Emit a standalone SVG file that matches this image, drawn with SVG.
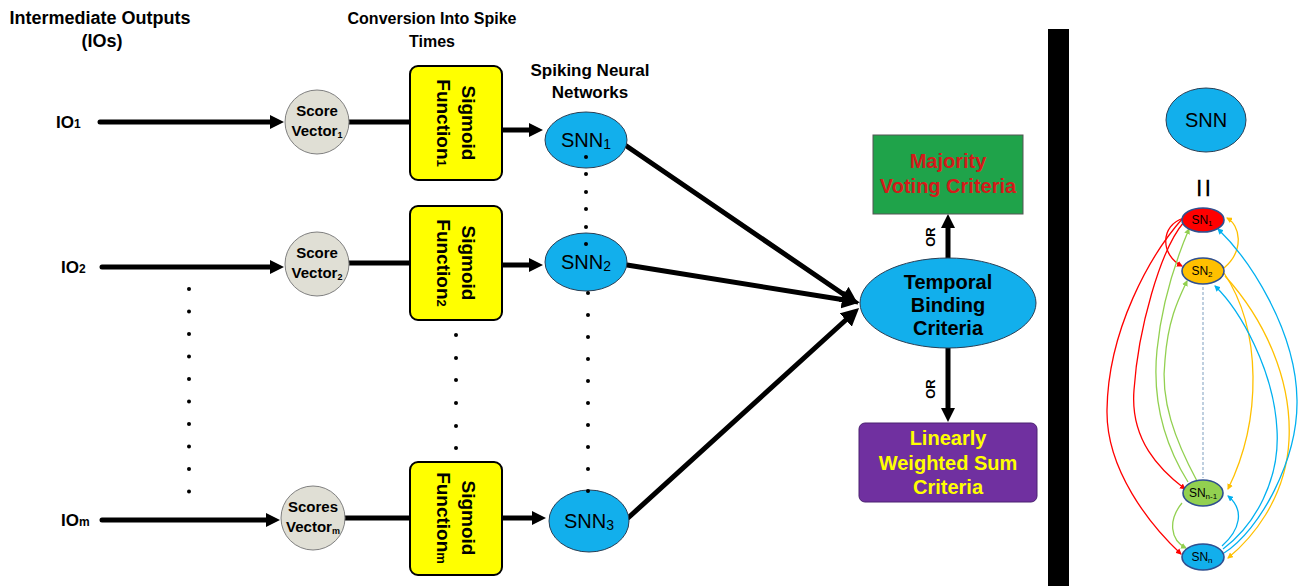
<svg xmlns="http://www.w3.org/2000/svg" width="1305" height="586" viewBox="0 0 1305 586">
<style>
.hdr{font-family:"Liberation Sans",Arial,sans-serif;font-weight:bold;font-size:17px;fill:#000;text-anchor:middle}
.io{font-family:"Liberation Sans",Arial,sans-serif;font-weight:bold;font-size:17px;fill:#000;text-anchor:start}
.sv{font-family:"Liberation Sans",Arial,sans-serif;font-weight:bold;font-size:15px;fill:#000;text-anchor:middle}
.sig{font-family:"Liberation Sans",Arial,sans-serif;font-weight:bold;font-size:19px;fill:#000;text-anchor:middle}
.snn{font-family:"Liberation Sans",Arial,sans-serif;font-size:20px;fill:#000;text-anchor:middle}
.crit{font-family:"Liberation Sans",Arial,sans-serif;font-weight:bold;font-size:20px;text-anchor:middle}
.or{font-family:"Liberation Sans",Arial,sans-serif;font-weight:bold;font-size:13px;fill:#000;text-anchor:middle}
.sn{font-family:"Liberation Sans",Arial,sans-serif;font-size:12px;fill:#000;text-anchor:middle}
.thick{stroke:#000;stroke-width:5;fill:none;stroke-linecap:round}
.circ{fill:#e0dfd5;stroke:#7f7f7f;stroke-width:1}
.box{fill:#ffff00;stroke:#000;stroke-width:2}
.blue{fill:#12afec;stroke:#2a3f55;stroke-width:1}
.dot{fill:#000}
.thin{fill:none;stroke-width:1.3}
.snode{stroke:#2f4f8f;stroke-width:1.6}
</style>
<defs>
<marker id="ah" viewBox="0 0 14 14" refX="2" refY="7" markerWidth="14" markerHeight="14" markerUnits="userSpaceOnUse" orient="auto"><path d="M0,0 L14,7 L0,14 z" fill="#000"/></marker>
<marker id="ahL" viewBox="0 0 18 18" refX="3" refY="9" markerWidth="18" markerHeight="18" markerUnits="userSpaceOnUse" orient="auto"><path d="M0,0 L18,9 L0,18 z" fill="#000"/></marker>
<marker id="mr" viewBox="0 0 6 6" refX="5" refY="3" markerWidth="6" markerHeight="6" markerUnits="userSpaceOnUse" orient="auto"><path d="M0,0 L6,3 L0,6 z" fill="#ff0000"/></marker>
<marker id="mg" viewBox="0 0 6 6" refX="5" refY="3" markerWidth="6" markerHeight="6" markerUnits="userSpaceOnUse" orient="auto"><path d="M0,0 L6,3 L0,6 z" fill="#92d050"/></marker>
<marker id="my" viewBox="0 0 6 6" refX="5" refY="3" markerWidth="6" markerHeight="6" markerUnits="userSpaceOnUse" orient="auto"><path d="M0,0 L6,3 L0,6 z" fill="#ffc000"/></marker>
<marker id="mb" viewBox="0 0 6 6" refX="5" refY="3" markerWidth="6" markerHeight="6" markerUnits="userSpaceOnUse" orient="auto"><path d="M0,0 L6,3 L0,6 z" fill="#00b0f0"/></marker>
</defs>
<rect width="1305" height="586" fill="#fff"/>

<g id="headers">
<text class="hdr" x="100" y="24" style="font-size:18px">Intermediate Outputs</text>
<text class="hdr" x="102" y="47" style="font-size:18px">(IOs)</text>
<text class="hdr" x="432" y="24" style="font-size:16px">Conversion Into Spike</text>
<text class="hdr" x="432" y="47" style="font-size:16px">Times</text>
<text class="hdr" x="590" y="76">Spiking Neural</text>
<text class="hdr" x="590" y="98">Networks</text>
</g>

<g id="io-labels">
<text class="io" x="56" y="128">IO<tspan font-size="12">1</tspan></text>
<text class="io" x="61" y="273">IO<tspan font-size="12">2</tspan></text>
<text class="io" x="61" y="526">IO<tspan font-size="12">m</tspan></text>
</g>

<g id="connectors">
<line class="thick" x1="100" y1="122" x2="272" y2="122" marker-end="url(#ah)"/>
<line class="thick" x1="102" y1="267" x2="272" y2="267" marker-end="url(#ah)"/>
<line class="thick" x1="102" y1="520" x2="268" y2="520" marker-end="url(#ah)"/>
<line class="thick" x1="349" y1="122" x2="411" y2="122"/>
<line class="thick" x1="349" y1="263" x2="411" y2="263"/>
<line class="thick" x1="345" y1="518" x2="411" y2="518"/>
<line class="thick" x1="502" y1="130" x2="531" y2="130" marker-end="url(#ah)"/>
<line class="thick" x1="502" y1="265" x2="531" y2="265" marker-end="url(#ah)"/>
<line class="thick" x1="502" y1="518" x2="534" y2="518" marker-end="url(#ah)"/>
<line class="thick" x1="625" y1="145" x2="846" y2="296" marker-end="url(#ahL)"/>
<line class="thick" x1="627" y1="265" x2="845" y2="300" marker-end="url(#ahL)"/>
<line class="thick" x1="628" y1="518" x2="848" y2="318" marker-end="url(#ahL)"/>
<line class="thick" stroke-linecap="butt" x1="948" y1="258" x2="948" y2="226" marker-end="url(#ah)"/>
<line class="thick" stroke-linecap="butt" x1="948" y1="348" x2="948" y2="410" marker-end="url(#ah)"/>
</g>

<g id="dots">
<circle class="dot" cx="189" cy="289" r="2"/><circle class="dot" cx="189" cy="311.5" r="2"/><circle class="dot" cx="189" cy="334" r="2"/><circle class="dot" cx="189" cy="356.5" r="2"/><circle class="dot" cx="189" cy="379" r="2"/><circle class="dot" cx="189" cy="401.5" r="2"/><circle class="dot" cx="189" cy="424" r="2"/><circle class="dot" cx="189" cy="446.5" r="2"/><circle class="dot" cx="189" cy="469" r="2"/><circle class="dot" cx="189" cy="491.5" r="2"/>
<circle class="dot" cx="456" cy="335" r="2"/><circle class="dot" cx="456" cy="358" r="2"/><circle class="dot" cx="456" cy="380" r="2"/><circle class="dot" cx="456" cy="403" r="2"/><circle class="dot" cx="456" cy="426" r="2"/><circle class="dot" cx="456" cy="448" r="2"/>
</g>

<g id="sv1"><circle class="circ" cx="317" cy="122" r="32"/><text class="sv" x="317" y="116">Score</text><text class="sv" x="317" y="136">Vector<tspan font-size="9" dy="2">1</tspan></text></g>
<g id="sv2"><circle class="circ" cx="317" cy="264" r="32"/><text class="sv" x="317" y="258">Score</text><text class="sv" x="317" y="278">Vector<tspan font-size="9" dy="2">2</tspan></text></g>
<g id="svm"><circle class="circ" cx="313" cy="518" r="32"/><text class="sv" x="313" y="512">Scores</text><text class="sv" x="313" y="532">Vector<tspan font-size="9" dy="2">m</tspan></text></g>

<g id="sig1"><rect class="box" x="410" y="66" width="92" height="114" rx="8"/>
<g transform="translate(462,123) rotate(90)"><text class="sig" x="0" y="0">Sigmoid</text><text class="sig" x="0" y="25">Function<tspan font-size="13">1</tspan></text></g></g>
<g id="sig2"><rect class="box" x="410" y="206" width="92" height="114" rx="8"/>
<g transform="translate(462,263) rotate(90)"><text class="sig" x="0" y="0">Sigmoid</text><text class="sig" x="0" y="25">Function<tspan font-size="13">2</tspan></text></g></g>
<g id="sigm"><rect class="box" x="410" y="462" width="92" height="113" rx="8"/>
<g transform="translate(462,518) rotate(90)"><text class="sig" x="0" y="0">Sigmoid</text><text class="sig" x="0" y="25">Function<tspan font-size="13">m</tspan></text></g></g>

<g id="snn1"><ellipse class="blue" cx="586" cy="140" rx="41" ry="28"/><text class="snn" x="586" y="147">SNN<tspan font-size="14" dy="2">1</tspan></text></g>
<g id="snn2"><ellipse class="blue" cx="586" cy="262" rx="41" ry="29"/><text class="snn" x="586" y="269">SNN<tspan font-size="14" dy="2">2</tspan></text></g>
<g id="snn3"><ellipse class="blue" cx="589" cy="521" rx="40" ry="31"/><text class="snn" x="589" y="528">SNN<tspan font-size="14" dy="2">3</tspan></text></g>

<g id="snn-dots">
<circle class="dot" cx="586" cy="157" r="2"/><circle class="dot" cx="586" cy="174" r="2"/><circle class="dot" cx="586" cy="192" r="2"/><circle class="dot" cx="586" cy="209" r="2"/><circle class="dot" cx="586" cy="227" r="2"/><circle class="dot" cx="586" cy="244" r="2"/>
<circle class="dot" cx="588" cy="293" r="2"/><circle class="dot" cx="588" cy="315" r="2"/><circle class="dot" cx="588" cy="337" r="2"/><circle class="dot" cx="588" cy="359" r="2"/><circle class="dot" cx="588" cy="381" r="2"/><circle class="dot" cx="588" cy="403" r="2"/><circle class="dot" cx="588" cy="425" r="2"/><circle class="dot" cx="588" cy="447" r="2"/><circle class="dot" cx="588" cy="469" r="2"/><circle class="dot" cx="588" cy="491" r="2"/>
</g>

<g id="temporal"><ellipse class="blue" cx="948" cy="303" rx="88" ry="45"/>
<text class="crit" fill="#000" x="948" y="289">Temporal</text><text class="crit" fill="#000" x="948" y="312">Binding</text><text class="crit" fill="#000" x="948" y="335">Criteria</text></g>

<g id="majority"><rect x="873" y="135" width="150" height="79" fill="#1fa34a" stroke="#555" stroke-width="1"/>
<text class="crit" fill="#d41a1a" x="948" y="168">Majority</text><text class="crit" fill="#d41a1a" x="948" y="193">Voting Criteria</text></g>

<g id="linear"><rect x="859" y="423" width="178" height="79" rx="6" fill="#7030a0" stroke="#4a2070" stroke-width="1"/>
<text class="crit" fill="#ffff00" x="948" y="445">Linearly</text><text class="crit" fill="#ffff00" x="948" y="470">Weighted Sum</text><text class="crit" fill="#ffff00" x="948" y="494">Criteria</text></g>

<g id="or-labels">
<text class="or" transform="translate(935,237) rotate(-90)">OR</text>
<text class="or" transform="translate(935,389) rotate(-90)">OR</text>
</g>

<rect id="separator" x="1048" y="29" width="21" height="557" fill="#000"/>

<g id="snn-top"><ellipse class="blue" cx="1206" cy="120" rx="40" ry="32"/><text class="snn" x="1206" y="127">SNN</text></g>
<text id="equals" font-family="Liberation Sans,Arial,sans-serif" font-size="34" text-anchor="middle" transform="translate(1202,188) rotate(90)" dy="10">=</text>

<g id="sn-connectors">
<line x1="1203" y1="287" x2="1203" y2="478" stroke="#7f9fbf" stroke-width="1" stroke-dasharray="3,2"/>
<path class="thin" stroke="#ff0000" d="M1184,218 C1160,225 1160,255 1182,266" marker-end="url(#mr)"/>
<path class="thin" stroke="#ff0000" d="M1184,222 C1160,250 1138,330 1134,390 C1130,440 1160,470 1185,489" marker-end="url(#mr)"/>
<path class="thin" stroke="#ff0000" d="M1183,218 C1150,255 1108,330 1107,410 C1106,470 1150,525 1181,554" marker-end="url(#mr)"/>
<path class="thin" stroke="#92d050" d="M1188,482 C1165,445 1152,400 1157,350 C1162,300 1178,255 1189,229" marker-end="url(#mg)"/>
<path class="thin" stroke="#92d050" d="M1197,481 C1175,440 1160,400 1165,360 C1168,320 1178,300 1187,281" marker-end="url(#mg)"/>
<path class="thin" stroke="#92d050" d="M1182,503 C1168,520 1170,540 1186,548" marker-end="url(#mg)"/>
<path class="thin" stroke="#ffc000" d="M1224,268 C1245,250 1240,225 1227,218" marker-end="url(#my)"/>
<path class="thin" stroke="#ffc000" d="M1224,273 C1262,330 1262,420 1228,489" marker-end="url(#my)"/>
<path class="thin" stroke="#ffc000" d="M1225,276 C1265,320 1292,380 1289,440 C1286,500 1250,540 1228,558" marker-end="url(#my)"/>
<path class="thin" stroke="#00b0f0" d="M1224,553 C1260,530 1298,460 1297,400 C1296,330 1250,260 1218,229" marker-end="url(#mb)"/>
<path class="thin" stroke="#00b0f0" d="M1223,549 C1255,525 1280,480 1277,430 C1274,370 1240,310 1215,286" marker-end="url(#mb)"/>
<path class="thin" stroke="#00b0f0" d="M1222,546 C1240,530 1245,510 1228,496" marker-end="url(#mb)"/>
</g>

<g id="sn1"><ellipse class="snode" cx="1203" cy="220" rx="21" ry="12" fill="#ff0000"/><text class="sn" x="1202" y="224">SN<tspan font-size="8" dy="2">1</tspan></text></g>
<g id="sn2"><ellipse class="snode" cx="1203" cy="271" rx="21" ry="13" fill="#ffc000"/><text class="sn" x="1202" y="275">SN<tspan font-size="8" dy="2">2</tspan></text></g>
<g id="snn-1"><ellipse class="snode" cx="1203" cy="493" rx="20" ry="13" fill="#92d050"/><text class="sn" x="1203" y="497">SN<tspan font-size="8" dy="2">n-1</tspan></text></g>
<g id="snn-n"><ellipse class="snode" cx="1203" cy="557" rx="21" ry="13" fill="#12afec"/><text class="sn" x="1202" y="561">SN<tspan font-size="8" dy="2">n</tspan></text></g>
</svg>
